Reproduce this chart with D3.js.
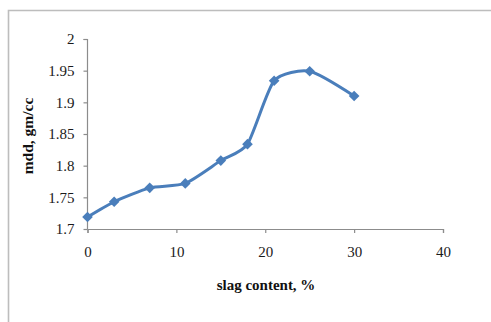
<!DOCTYPE html>
<html><head><meta charset="utf-8">
<script src="https://cdn.jsdelivr.net/npm/d3@7"></script>
<style>body{margin:0;background:#fff}svg{display:block}</style>
</head><body><svg id="c" width="491" height="322"></svg>
<script>
const slag = [0, 3, 7, 11, 15, 18, 21, 25, 30];
const mdd = [1.719, 1.743, 1.765, 1.772, 1.808, 1.834, 1.934, 1.949, 1.91];
const xTicks = [0, 10, 20, 30, 40];
const yTicks = [1.7, 1.75, 1.8, 1.85, 1.9, 1.95, 2];
const xTitle = "slag content, %";
const yTitle = "mdd, gm/cc";

const svg = d3.select("#c");
// outer frame
svg.append("path").attr("d","M8.5,322 V10.5 H491").attr("fill","none").attr("stroke","#bdbdbd").attr("stroke-width",1.6);

const x = d3.scaleLinear().domain([0,40]).range([87.5,443]);
const y = d3.scaleLinear().domain([1.7,2]).range([229,39]);

const font = "'Liberation Serif','Times New Roman',serif";
const xa = svg.append("g").attr("transform","translate(0,229)")
  .call(d3.axisBottom(x).tickValues(xTicks).tickFormat(d3.format("d")).tickSize(4).tickPadding(13));
const ya = svg.append("g").attr("transform","translate(87.5,0)")
  .call(d3.axisLeft(y).tickValues(yTicks).tickFormat(d=>String(+d.toFixed(2))).tickSize(4).tickPadding(9));
[xa,ya].forEach(a=>{
  a.select(".domain").attr("stroke","#8c8c8c").attr("stroke-width",1.2);
  a.selectAll(".tick line").attr("stroke","#8c8c8c").attr("stroke-width",1.2);
  a.selectAll("text").attr("font-family",font).attr("font-size",15).attr("fill","#1a1a1a");
});
ya.select(".domain").attr("d","M-4,39.5H0V229");

const pts = slag.map((s,i)=>[x(s),y(mdd[i])]);
svg.append("path").attr("d", d3.line().curve(d3.curveCardinal.tension(0.35))(pts))
  .attr("fill","none").attr("stroke","#4a7ebb").attr("stroke-width",3);
const sym = d3.symbol().type(d3.symbolDiamond2).size(72);
svg.selectAll(".m").data(pts).join("path").attr("class","m")
  .attr("transform",d=>`translate(${d[0]},${d[1]})`).attr("d",sym).attr("fill","#4a7ebb");

svg.append("text").attr("x",266).attr("y",290).attr("text-anchor","middle")
  .attr("font-family",font).attr("font-weight","bold").attr("font-size",15).attr("fill","#111").text(xTitle);
svg.append("text").attr("transform","translate(33,136) rotate(-90)").attr("text-anchor","middle")
  .attr("font-family",font).attr("font-weight","bold").attr("font-size",15.5).attr("fill","#111").text(yTitle);
</script></body></html>
